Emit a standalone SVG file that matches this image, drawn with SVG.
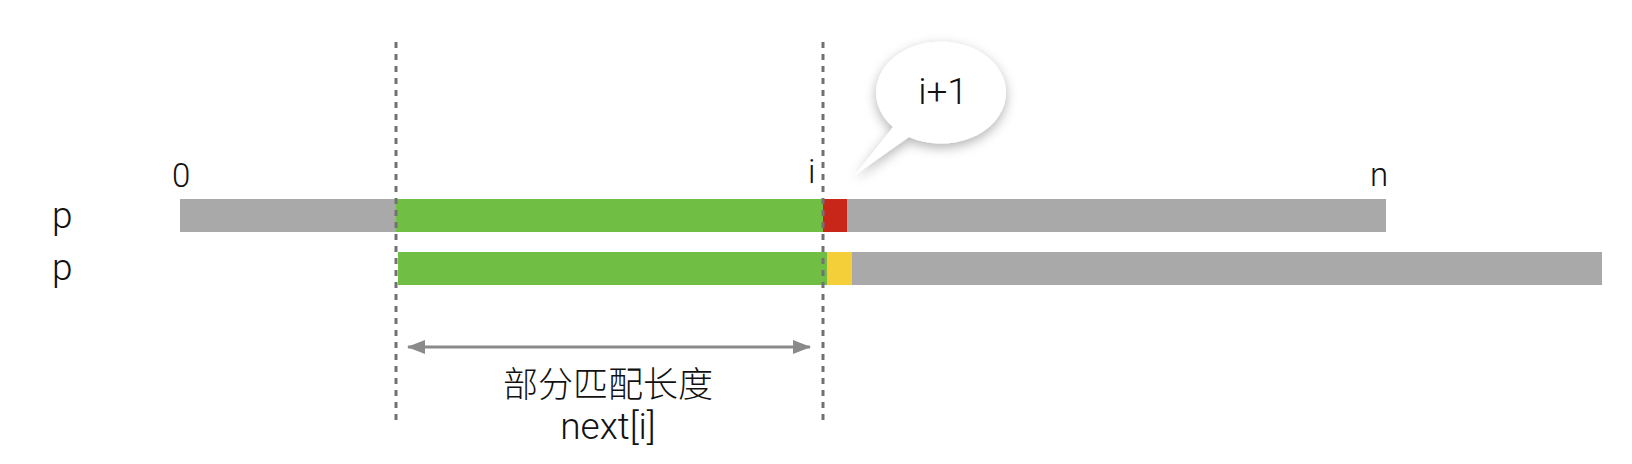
<svg xmlns="http://www.w3.org/2000/svg" width="1632" height="464" viewBox="0 0 1632 464">
<style>
.t{font-family:"Roboto","Liberation Sans","Noto Sans CJK SC",sans-serif;font-weight:300;fill:#111}
.cjk{font-family:"Noto Sans CJK SC","Liberation Sans",sans-serif;font-weight:300;fill:#111}
.gray{fill:#a9a9a9}
.green{fill:#70bf44}
.dash{stroke:#727272;stroke-width:3;stroke-dasharray:6 6;fill:none}
</style>
<defs>
<filter id="sh" x="-30%" y="-30%" width="160%" height="170%">
<feDropShadow dx="0" dy="4" stdDeviation="6" flood-color="#000" flood-opacity="0.3"/>
</filter>
<marker id="ah" viewBox="0 0 18 14" refX="17" refY="7" markerWidth="18" markerHeight="14" markerUnits="userSpaceOnUse" orient="auto-start-reverse">
<path d="M0,0 L18,7 L0,14 Z" fill="#8a8a8a"/>
</marker>
</defs>
<g id="row1">
<rect class="gray" x="180" y="199" width="1206" height="33"/>
<rect class="green" x="396" y="199" width="427" height="33"/>
<rect x="823" y="199" width="24" height="33" fill="#c9261a"/>
</g>
<g id="row2">
<rect class="gray" x="398" y="252" width="1204" height="33"/>
<rect class="green" x="398" y="252" width="429" height="33"/>
<rect x="827" y="252" width="25" height="33" fill="#f5cf3a"/>
</g>
<g id="labels">
<text class="t" x="52" y="228" font-size="37">p</text>
<text class="t" x="52" y="280" font-size="37">p</text>
<text class="t" x="172" y="187" font-size="33">0</text>
<text class="t" x="808" y="183" font-size="33">i</text>
<text class="t" x="1370" y="186" font-size="33">n</text>
</g>
<g id="bubble">
<path d="M893,127 L855,175 L909,137 A65,51 0 1 0 893,127 Z" fill="#fff" filter="url(#sh)"/>
<text class="t" x="943" y="104" font-size="37" text-anchor="middle">i+1</text>
</g>
<g id="connectors">
<line class="dash" x1="396" y1="42" x2="396" y2="422"/>
<line class="dash" x1="823" y1="42" x2="823" y2="422"/>
<line x1="408" y1="347" x2="810" y2="347" stroke="#8a8a8a" stroke-width="3" marker-start="url(#ah)" marker-end="url(#ah)"/>
</g>
<g id="measure">
<text class="cjk" x="608" y="397" font-size="35" text-anchor="middle">部分匹配长度</text>
<text class="t" x="608" y="439" font-size="37" text-anchor="middle">next[i]</text>
</g>
</svg>
